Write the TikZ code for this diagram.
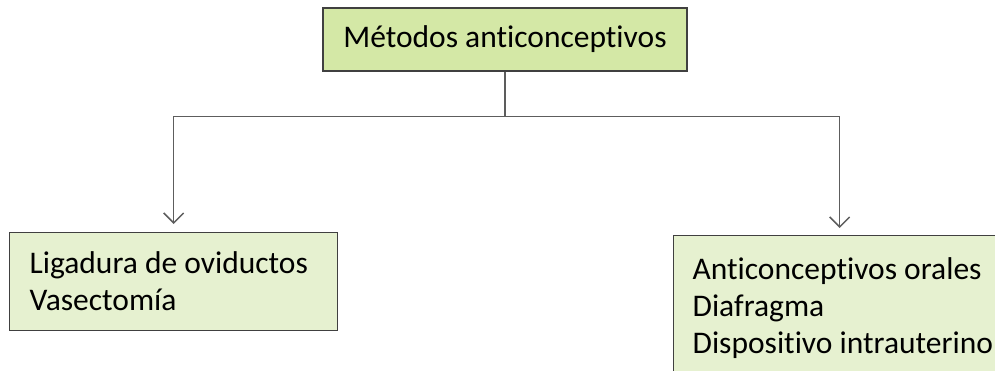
\documentclass[tikz,border=0pt]{standalone}
\usepackage{fontspec}
\setmainfont{Carlito}[Ligatures=NoCommon]
\usetikzlibrary{arrows.meta}
\definecolor{boxgreen}{HTML}{D4E8A6}
\definecolor{lightgreen}{HTML}{E6F1D0}
\definecolor{edgegray}{HTML}{404040}
\tikzset{
    topbox/.style={draw=edgegray, line width=1.3pt, fill=boxgreen,
        minimum width=364pt, minimum height=63pt, inner sep=0pt},
    listbox/.style={draw=edgegray, line width=1.3pt, fill=lightgreen,
        align=flush left, anchor=north west, inner ysep=0pt},
    link/.style={draw=edgegray!85, line width=1.5pt},
    downarrow/.style={link, -{Straight Barb[length=10pt,width=20pt]}},
}

\begin{document}
\begin{tikzpicture}[x=1pt, y=-1pt]
    \useasboundingbox (0,0) rectangle (995,370);
    \clip (0,0) rectangle (995,370);
    \fontsize{31.5}{37}\selectfont
    % boxes
    \node[topbox] (metodos) at (505,39.5) {Métodos anticonceptivos};
    \node[listbox, inner xsep=20pt, text width=288pt, minimum height=98pt]
        (quirurgicos) at (9,232) {Ligadura de oviductos\\Vasectomía};
    \node[listbox, inner xsep=19pt, text width=302pt, minimum height=145pt]
        (otros) at (673,235) {Anticonceptivos orales\\Diafragma\\Dispositivo intrauterino};
    % connectors
    \draw[link] (metodos.south) -- ++(0,45) coordinate (split);
    \draw[downarrow] (split) -| ([yshift=8pt]quirurgicos.north);
    \draw[downarrow] (split) -| ([xshift=-4pt,yshift=7pt]otros.north);
\end{tikzpicture}
\end{document}
